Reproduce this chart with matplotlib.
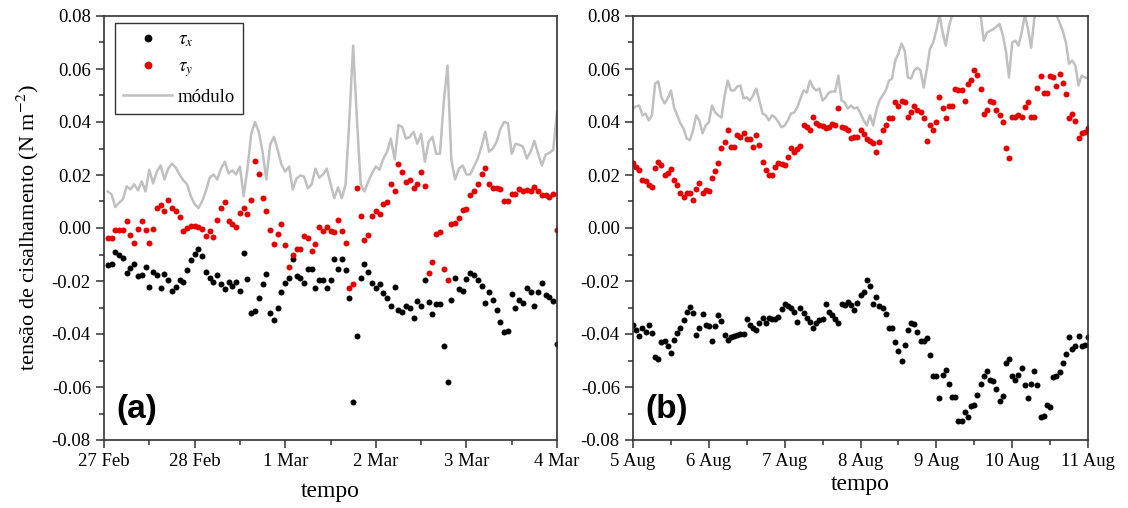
import matplotlib
matplotlib.use('Agg')
import matplotlib.pyplot as plt
from matplotlib import ticker
import numpy as np

plt.rcParams['font.family'] = ['Liberation Serif', 'DejaVu Serif']
plt.rcParams['mathtext.fontset'] = 'stix'
plt.rcParams['axes.unicode_minus'] = False

# (a) 27 Feb - 4 Mar, hourly, hours 1..120
ticks_a = ["27 Feb", "28 Feb", "1 Mar", "2 Mar", "3 Mar", "4 Mar"]
hours_a = np.arange(1, 121)
tau_x_a = [-0.0138, -0.0135, -0.0090, -0.0101, -0.0112, -0.0168, -0.0150, -0.0135, -0.0183, -0.0176,
           -0.0146, -0.0224, -0.0165, -0.0176, -0.0228, -0.0172, -0.0198, -0.0236, -0.0224, -0.0198,
           -0.0202, -0.0157, -0.0120, -0.0097, -0.0079, -0.0105, -0.0165, -0.0190, -0.0202, -0.0176,
           -0.0210, -0.0232, -0.0202, -0.0220, -0.0202, -0.0236, -0.0093, -0.0194, -0.0322, -0.0314,
           -0.0266, -0.0210, -0.0172, -0.0322, -0.0348, -0.0300, -0.0243, -0.0206, -0.0190, -0.0116,
           -0.0180, -0.0190, -0.0206, -0.0153, -0.0153, -0.0228, -0.0198, -0.0198, -0.0228, -0.0198,
           -0.0116, -0.0153, -0.0116, -0.0160, -0.0266, -0.0655, -0.0408, -0.0187, -0.0135, -0.0165,
           -0.0206, -0.0228, -0.0213, -0.0247, -0.0266, -0.0296, -0.0224, -0.0310, -0.0318, -0.0296,
           -0.0303, -0.0340, -0.0277, -0.0296, -0.0198, -0.0280, -0.0326, -0.0288, -0.0288, -0.0445,
           -0.0580, -0.0270, -0.0187, -0.0232, -0.0236, -0.0194, -0.0168, -0.0176, -0.0198, -0.0220,
           -0.0284, -0.0240, -0.0270, -0.0310, -0.0355, -0.0393, -0.0389, -0.0250, -0.0303, -0.0270,
           -0.0284, -0.0228, -0.0243, -0.0296, -0.0243, -0.0206, -0.0254, -0.0262, -0.0277, -0.0438]
tau_y_a = [-0.0037, -0.0037, -0.0007, -0.0007, -0.0007, 0.0026, -0.0026, -0.0056, -0.0004, 0.0026,
           -0.0007, -0.0056, -0.0004, 0.0075, 0.0086, 0.0064, 0.0105, 0.0075, 0.0064, 0.0041,
           -0.0010, 0.0000, 0.0007, 0.0007, 0.0004, -0.0004, -0.0030, -0.0010, -0.0034, 0.0030,
           0.0075, 0.0097, 0.0026, 0.0015, 0.0004, 0.0056, 0.0075, 0.0052, 0.0105, 0.0254,
           0.0202, 0.0112, 0.0064, -0.0007, -0.0060, -0.0022, 0.0015, -0.0064, -0.0146, -0.0101,
           -0.0079, -0.0079, -0.0030, -0.0037, -0.0086, -0.0060, 0.0004, -0.0010, 0.0004, -0.0010,
           -0.0015, 0.0030, -0.0010, -0.0056, -0.0228, -0.0210, 0.0150, 0.0045, -0.0045, -0.0026,
           0.0045, 0.0064, 0.0052, 0.0090, 0.0097, 0.0165, 0.0138, 0.0240, 0.0213, 0.0172,
           0.0180, 0.0150, 0.0165, 0.0210, 0.0160, -0.0168, -0.0130, -0.0022, -0.0015, -0.0153,
           -0.0198, 0.0015, 0.0019, 0.0037, 0.0067, 0.0071, 0.0123, 0.0138, 0.0165, 0.0202,
           0.0228, 0.0165, 0.0150, 0.0150, 0.0146, 0.0101, 0.0101, 0.0130, 0.0127, 0.0146,
           0.0138, 0.0142, 0.0138, 0.0153, 0.0138, 0.0123, 0.0123, 0.0116, 0.0127, -0.0007]
modulo_a = [0.0138, 0.0127, 0.0079, 0.0095, 0.0108, 0.0157, 0.0146, 0.0165, 0.0142, 0.0176,
            0.0138, 0.0220, 0.0168, 0.0213, 0.0236, 0.0183, 0.0224, 0.0243, 0.0228, 0.0202,
            0.0180, 0.0165, 0.0120, 0.0090, 0.0075, 0.0101, 0.0140, 0.0190, 0.0202, 0.0183,
            0.0224, 0.0250, 0.0206, 0.0217, 0.0202, 0.0232, 0.0120, 0.0224, 0.0355, 0.0400,
            0.0363, 0.0288, 0.0183, 0.0314, 0.0344, 0.0295, 0.0240, 0.0213, 0.0232, 0.0146,
            0.0187, 0.0198, 0.0194, 0.0150, 0.0165, 0.0224, 0.0190, 0.0202, 0.0224, 0.0168,
            0.0112, 0.0153, 0.0112, 0.0165, 0.0411, 0.0688, 0.0410, 0.0165, 0.0138, 0.0176,
            0.0206, 0.0232, 0.0220, 0.0262, 0.0288, 0.0337, 0.0258, 0.0389, 0.0381, 0.0337,
            0.0344, 0.0363, 0.0318, 0.0355, 0.0250, 0.0325, 0.0344, 0.0280, 0.0280, 0.0475,
            0.0613, 0.0258, 0.0183, 0.0224, 0.0236, 0.0202, 0.0202, 0.0232, 0.0262, 0.0307,
            0.0363, 0.0288, 0.0300, 0.0325, 0.0374, 0.0400, 0.0396, 0.0280, 0.0318, 0.0314,
            0.0307, 0.0262, 0.0288, 0.0329, 0.0280, 0.0236, 0.0277, 0.0284, 0.0295, 0.0437]

# (b) 5 Aug - 11 Aug, hourly, hours 0..144
ticks_b = ["5 Aug", "6 Aug", "7 Aug", "8 Aug", "9 Aug", "10 Aug", "11 Aug"]
hours_b = np.arange(0, 145)
tau_x_b = [-0.0365, -0.0384, -0.0406, -0.0376, -0.0391, -0.0365, -0.0395, -0.0485, -0.0493, -0.0432,
           -0.0425, -0.0447, -0.0470, -0.0421, -0.0395, -0.0376, -0.0346, -0.0316, -0.0297, -0.0320,
           -0.0402, -0.0376, -0.0323, -0.0365, -0.0368, -0.0425, -0.0368, -0.0327, -0.0350, -0.0402,
           -0.0421, -0.0410, -0.0406, -0.0402, -0.0399, -0.0400, -0.0342, -0.0365, -0.0376, -0.0384,
           -0.0357, -0.0338, -0.0357, -0.0338, -0.0342, -0.0345, -0.0335, -0.0305, -0.0286, -0.0295,
           -0.0301, -0.0316, -0.0353, -0.0301, -0.0320, -0.0338, -0.0353, -0.0376, -0.0357, -0.0346,
           -0.0342, -0.0286, -0.0316, -0.0327, -0.0342, -0.0357, -0.0286, -0.0290, -0.0278, -0.0290,
           -0.0308, -0.0282, -0.0252, -0.0241, -0.0196, -0.0218, -0.0286, -0.0259, -0.0293, -0.0301,
           -0.0323, -0.0376, -0.0376, -0.0429, -0.0466, -0.0500, -0.0440, -0.0384, -0.0357, -0.0361,
           -0.0391, -0.0425, -0.0425, -0.0414, -0.0478, -0.0560, -0.0560, -0.0643, -0.0553, -0.0534,
           -0.0587, -0.0639, -0.0639, -0.0729, -0.0729, -0.0696, -0.0714, -0.0673, -0.0669, -0.0632,
           -0.0587, -0.0560, -0.0538, -0.0572, -0.0579, -0.0609, -0.0654, -0.0635, -0.0511, -0.0493,
           -0.0560, -0.0575, -0.0553, -0.0530, -0.0594, -0.0643, -0.0587, -0.0541, -0.0594, -0.0714,
           -0.0711, -0.0669, -0.0677, -0.0564, -0.0560, -0.0545, -0.0508, -0.0474, -0.0410, -0.0455,
           -0.0447, -0.0406, -0.0444, -0.0440, -0.0410]
tau_y_b = [0.0244, 0.0230, 0.0218, 0.0180, 0.0177, 0.0162, 0.0154, 0.0226, 0.0248, 0.0237,
           0.0199, 0.0207, 0.0222, 0.0180, 0.0162, 0.0132, 0.0117, 0.0132, 0.0132, 0.0105,
           0.0147, 0.0169, 0.0132, 0.0143, 0.0139, 0.0188, 0.0214, 0.0244, 0.0301, 0.0323,
           0.0368, 0.0305, 0.0305, 0.0350, 0.0342, 0.0357, 0.0335, 0.0335, 0.0305, 0.0350,
           0.0312, 0.0248, 0.0218, 0.0199, 0.0199, 0.0229, 0.0244, 0.0241, 0.0237, 0.0267,
           0.0301, 0.0286, 0.0297, 0.0308, 0.0387, 0.0380, 0.0368, 0.0417, 0.0395, 0.0387,
           0.0384, 0.0376, 0.0383, 0.0391, 0.0387, 0.0451, 0.0380, 0.0376, 0.0368, 0.0338,
           0.0342, 0.0342, 0.0368, 0.0353, 0.0335, 0.0327, 0.0320, 0.0286, 0.0323, 0.0368,
           0.0387, 0.0414, 0.0414, 0.0474, 0.0462, 0.0481, 0.0474, 0.0417, 0.0436, 0.0459,
           0.0444, 0.0436, 0.0414, 0.0327, 0.0387, 0.0368, 0.0399, 0.0496, 0.0451, 0.0414,
           0.0459, 0.0462, 0.0523, 0.0520, 0.0519, 0.0481, 0.0545, 0.0560, 0.0598, 0.0579,
           0.0526, 0.0432, 0.0444, 0.0481, 0.0474, 0.0444, 0.0425, 0.0399, 0.0301, 0.0263,
           0.0417, 0.0417, 0.0425, 0.0417, 0.0455, 0.0474, 0.0417, 0.0417, 0.0530, 0.0572,
           0.0508, 0.0508, 0.0572, 0.0568, 0.0534, 0.0583, 0.0549, 0.0504, 0.0414, 0.0432,
           0.0402, 0.0338, 0.0357, 0.0361, 0.0376]
modulo_b = [0.0451, 0.0459, 0.0462, 0.0425, 0.0432, 0.0406, 0.0425, 0.0545, 0.0553, 0.0493,
            0.0470, 0.0489, 0.0519, 0.0455, 0.0425, 0.0395, 0.0375, 0.0338, 0.0331, 0.0368,
            0.0425, 0.0406, 0.0357, 0.0387, 0.0399, 0.0462, 0.0436, 0.0425, 0.0417, 0.0500,
            0.0556, 0.0519, 0.0519, 0.0534, 0.0538, 0.0489, 0.0493, 0.0481, 0.0500, 0.0526,
            0.0481, 0.0432, 0.0425, 0.0406, 0.0425, 0.0417, 0.0400, 0.0380, 0.0387, 0.0406,
            0.0432, 0.0436, 0.0455, 0.0489, 0.0519, 0.0511, 0.0556, 0.0530, 0.0519, 0.0526,
            0.0481, 0.0493, 0.0511, 0.0515, 0.0515, 0.0575, 0.0481, 0.0474, 0.0451, 0.0462,
            0.0451, 0.0455, 0.0432, 0.0406, 0.0387, 0.0425, 0.0387, 0.0444, 0.0481, 0.0500,
            0.0519, 0.0556, 0.0564, 0.0632, 0.0658, 0.0696, 0.0669, 0.0568, 0.0564, 0.0594,
            0.0605, 0.0594, 0.0530, 0.0600, 0.0677, 0.0700, 0.0745, 0.0805, 0.0737, 0.0688,
            0.0760, 0.0805, 0.0850, 0.0880, 0.0860, 0.0900, 0.0870, 0.0850, 0.0880, 0.0830,
            0.0805, 0.0707, 0.0737, 0.0744, 0.0750, 0.0760, 0.0770, 0.0730, 0.0670, 0.0568,
            0.0700, 0.0707, 0.0688, 0.0737, 0.0805, 0.0752, 0.0680, 0.0790, 0.0840, 0.0870,
            0.0850, 0.0880, 0.0840, 0.0810, 0.0805, 0.0774, 0.0744, 0.0700, 0.0620, 0.0632,
            0.0613, 0.0538, 0.0575, 0.0568, 0.0565]

fig = plt.figure(figsize=(11.28, 5.08), dpi=100)
ax_a = fig.add_axes([104 / 1128, 68 / 508, 453 / 1128, 424 / 508])
ax_b = fig.add_axes([633 / 1128, 68 / 508, 455 / 1128, 424 / 508])

panels = [(ax_a, hours_a, tau_x_a, tau_y_a, modulo_a, ticks_a, '(a)', 8),
          (ax_b, hours_b, tau_x_b, tau_y_b, modulo_b, ticks_b, '(b)', 3)]
for ax, hours, tx, ty, mod, labels, tag, pad in panels:
    days = hours / 24
    line_m, = ax.plot(days, mod, color='#c0c0c0', lw=1.8, zorder=1)
    pts_x, = ax.plot(days, tx, 'o', color='black', ms=4.3, mec='none', zorder=2)
    pts_y, = ax.plot(days, ty, 'o', color='#e60000', ms=4.3, mec='none', zorder=2)
    ax.set_xlim(0, len(labels) - 1)
    ax.set_ylim(-0.08, 0.08)
    ax.xaxis.set_major_locator(ticker.FixedLocator(range(len(labels))))
    ax.xaxis.set_major_formatter(ticker.FixedFormatter(labels))
    ax.xaxis.set_minor_locator(ticker.MultipleLocator(0.5))
    ax.yaxis.set_major_locator(ticker.MultipleLocator(0.02))
    ax.yaxis.set_minor_locator(ticker.MultipleLocator(0.01))
    ax.yaxis.set_major_formatter(ticker.FormatStrFormatter('%.2f'))
    ax.tick_params(which='both', direction='out', top=False, right=False,
                   labelsize=13.5, width=1.1, color='#333333')
    ax.tick_params(which='major', length=6)
    ax.tick_params(which='minor', length=3.5)
    for sp in ax.spines.values():
        sp.set_linewidth(1.2)
        sp.set_color('#333333')
    ax.set_xlabel('tempo', fontsize=17, labelpad=pad)
    ax.text(0.028, 0.035, tag, transform=ax.transAxes, fontsize=24, fontweight='bold',
            family='Liberation Sans', ha='left', va='bottom')

ax_a.set_ylabel('tensão de cisalhamento (N m$^{-2}$)', fontsize=16, labelpad=8)
leg = ax_a.legend([pts_x, pts_y, line_m], [r'$\tau_x$', r'$\tau_y$', 'módulo'],
                  loc='upper left', bbox_to_anchor=(0.024, 0.984), borderaxespad=0,
                  fontsize=13.5, handlelength=2.6, handletextpad=0.3, labelspacing=0.5,
                  borderpad=0.45, markerscale=1.3, fancybox=False, framealpha=1,
                  edgecolor='#333333')
leg.get_frame().set_linewidth(1.0)

fig.savefig('out.png', dpi=100)
